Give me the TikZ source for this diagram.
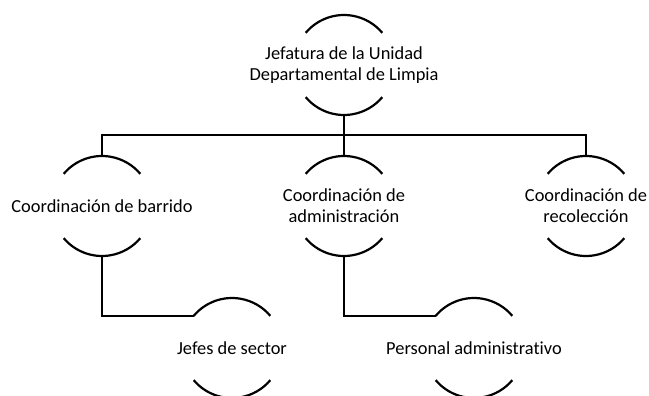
\documentclass[tikz,border=0pt]{standalone}
\usepackage{fontspec}
\setmainfont{Carlito}[Ligatures={NoCommon}]
\begin{document}
\begin{tikzpicture}[x=1pt,y=1pt,
  ring/.style={circle,minimum size=100pt,inner sep=0pt,outer sep=0pt,draw=none},
  lbl/.style={align=center,inner sep=0pt,font=\fontsize{18.4}{21}\selectfont},
  arcs/.style={line width=2.2pt},
  conn/.style={line width=2.2pt}]
\useasboundingbox (0,0) rectangle (649,-396);
% rings
\node[ring] (topc) at (344,-65) {};
\node[ring] (barc) at (102,-206) {};
\node[ring] (admc) at (344,-206) {};
\node[ring] (recc) at (586,-206) {};
\node[ring] (jefc) at (232,-348) {};
\node[ring] (perc) at (474,-348) {};
% labels
\node[lbl] (top) at (topc) {Jefatura de la Unidad\\Departamental de Limpia};
\node[lbl] (bar) at (barc) {Coordinación de barrido};
\node[lbl] (adm) at (admc) {Coordinación de\\administración};
\node[lbl] (rec) at (recc) {Coordinación de\\recolección};
\node[lbl] (jef) at (jefc) {Jefes de sector};
\node[lbl] (per) at (perc) {Personal administrativo};
% arcs
\foreach \n in {topc,barc,admc,recc,jefc,perc}{
  \draw[arcs] (\n.140) arc[start angle=140,end angle=40,radius=50pt];
  \draw[arcs] (\n.220) arc[start angle=220,end angle=320,radius=50pt];
}
% connectors
\coordinate (bus) at (344,-135);
\draw[conn] (topc.south) -- (bus);
\draw[conn] (barc.north) |- (bus) -| (recc.north);
\draw[conn] (admc.north) -- (bus);
\draw[conn] (barc.south) |- (jefc.140);
\draw[conn] (admc.south) |- (perc.140);
\end{tikzpicture}
\end{document}
